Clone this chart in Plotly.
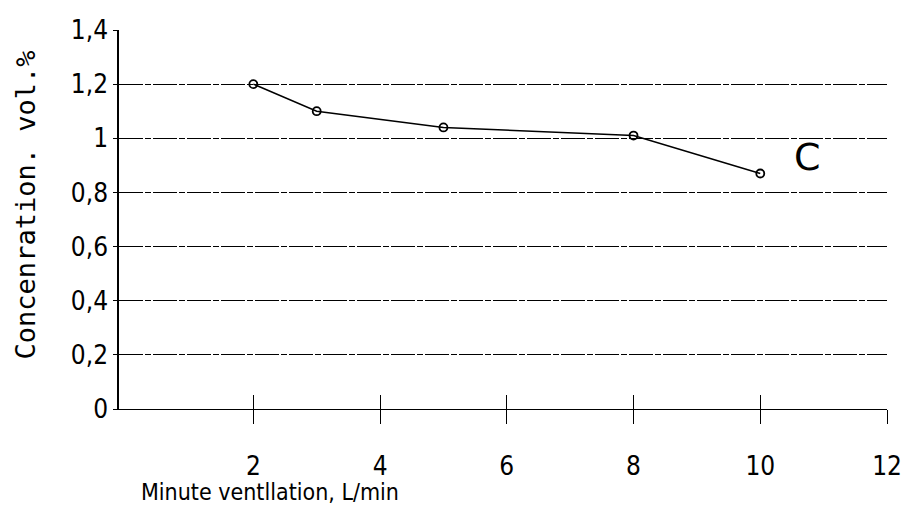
import plotly.graph_objects as go

x_vals = [2, 3, 5, 8, 10]
y_vals = [1.2, 1.1, 1.04, 1.01, 0.87]
x_ticks = [2, 4, 6, 8, 10, 12]
y_ticks = [0, 0.2, 0.4, 0.6, 0.8, 1.0, 1.2, 1.4]
y_tick_text = ["0", "0,2", "0,4", "0,6", "0,8", "1", "1,2", "1,4"]
series_label = "C"
label_pos = (10.74, 0.93)

NARROW = "Liberation Sans Narrow, DejaVu Sans Condensed, Liberation Sans, sans-serif"
MONO = "DejaVu Sans Mono, monospace"
GRID_DASH = "24px,2px,6px,2px"

fig = go.Figure()
fig.add_trace(go.Scatter(
    x=x_vals, y=y_vals, mode="lines+markers",
    line=dict(color="black", width=1.5),
    marker=dict(symbol="circle-open", size=8, color="black", line=dict(width=1.8)),
    showlegend=False,
))
fig.add_trace(go.Scatter(x=[None], y=[None], xaxis="x2", showlegend=False))
fig.add_annotation(x=label_pos[0], y=label_pos[1], text=series_label, showarrow=False,
                   font=dict(size=38, family="DejaVu Sans", color="black"))

fig.update_layout(
    width=904, height=506,
    margin=dict(l=111, r=25, t=22, b=105),
    plot_bgcolor="white", paper_bgcolor="white",
    font=dict(family=NARROW, size=26, color="black"),
    xaxis=dict(range=[-0.12, 12.0], tickvals=x_ticks, ticks="outside", ticklen=14,
               tickwidth=1.3, tickcolor="black", showgrid=False, zeroline=False,
               showline=True, linecolor="black", linewidth=1.2, automargin=False,
               ticklabelstandoff=20, tickfont=dict(size=26, family=NARROW)),
    xaxis2=dict(range=[-0.12, 12.0], tickvals=x_ticks, ticks="inside", ticklen=14,
                tickwidth=1.3, tickcolor="black", showticklabels=False, showgrid=False,
                zeroline=False, overlaying="x", side="bottom", showline=False,
                automargin=False),
    yaxis=dict(range=[0, 1.4], tickvals=y_ticks, ticktext=y_tick_text,
               ticks="outside", ticklen=4, tickcolor="black", automargin=False,
               showgrid=True, gridcolor="black", gridwidth=1, griddash=GRID_DASH,
               zeroline=False, showline=True, linecolor="black", linewidth=1.5,
               tickfont=dict(size=26, family=NARROW)),
)
fig.add_annotation(x=-0.122, y=0.538, xref="paper", yref="paper", xanchor="center",
                   yanchor="middle", textangle=-90, text="Concenration. vol.%",
                   showarrow=False, font=dict(size=27, family=MONO))
fig.add_annotation(x=0.197, y=-0.18, xref="paper", yref="paper", xanchor="center",
                   yanchor="top", text="Minute ventllation, L/min", showarrow=False,
                   font=dict(size=23, family=NARROW))
fig.write_html("out.html")
